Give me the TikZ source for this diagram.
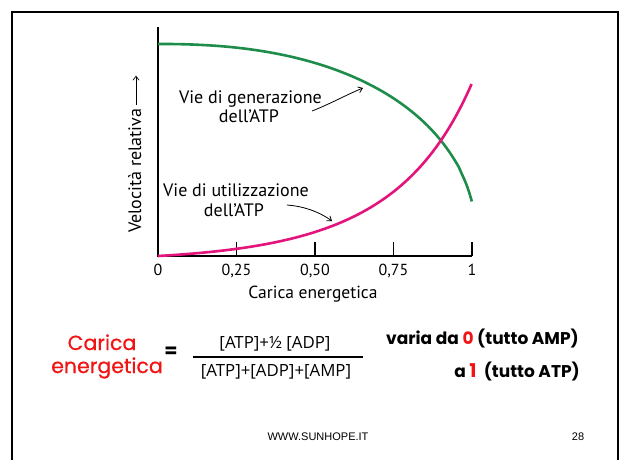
\documentclass[tikz,border=0pt]{standalone}
\usepackage{fontspec}
\setmainfont{PT Sans}
\newfontfamily\comic{Poppins}
\newfontfamily\comicheavy[FakeBold=0.6]{Poppins}
\newfontfamily\formfont{Open Sans}
\newfontfamily\arialf{Liberation Sans}
\usetikzlibrary{arrows.meta,calc}
\definecolor{gcurve}{RGB}{30,140,75}
\definecolor{mcurve}{RGB}{228,20,125}
\definecolor{redtxt}{RGB}{240,20,20}
\tikzset{
  frameline/.style={line width=2pt,black},
  axisline/.style={line width=1.3pt,black},
  gline/.style={line width=2.6pt,gcurve},
  mline/.style={line width=2.6pt,mcurve},
  thinarrow/.style={line width=0.8pt,-{Straight Barb[length=4pt,width=6pt]}},
  lbl/.style={inner sep=0pt,font=\fontsize{18}{20}\selectfont},
  ticklbl/.style={inner sep=0pt,anchor=base,font=\fontsize{16}{18}\selectfont},
  formula/.style={inner sep=0pt,anchor=base,font=\formfont\fontsize{16.8}{19}\selectfont},
  comicred/.style={inner sep=0pt,anchor=base,text=redtxt,font=\comicheavy\fontsize{20.5}{22}\selectfont},
  comicbold/.style={inner sep=0pt,anchor=base,font=\comic\bfseries\fontsize{17}{18}\selectfont},
  footer/.style={inner sep=0pt,anchor=base,font=\arialf\fontsize{11}{13}\selectfont}
}
\begin{document}
\begin{tikzpicture}[x=1pt,y=-1pt]
\useasboundingbox (0,0) rectangle (621,459);
\fill[white] (0,0) rectangle (621,459);
% frame
\draw[frameline] (12,460) -- (12,12) -- (618,12) -- (618,460);
% axes
\coordinate (Ytop) at (158,27);
\coordinate (O) at (158,256);
\coordinate (Xend) at (472,256);
\draw[axisline] (Ytop) -- (O) -- (Xend);
\foreach \t in {0.25,0.5,0.75,1} {
  \draw[axisline] ({158+314*\t},242) -- ({158+314*\t},256);
}
\node[ticklbl] (t0) at (158,275) {0};
\node[ticklbl] (t1) at (236.5,275) {0,25};
\node[ticklbl] (t2) at (315,275) {0,50};
\node[ticklbl] (t3) at (393.5,275) {0,75};
\node[ticklbl] (t4) at (472,275) {1};
\node[inner sep=0pt,anchor=base,font=\fontsize{17.5}{20}\selectfont] (xlab) at (313,298) {Carica energetica};
% y label
\node[lbl,rotate=90,anchor=base west] (ylab) at (141,233) {Velocità relativa};
\coordinate (yarrS) at ($(ylab.base east)+(-5,-4)$);
\coordinate (yarrE) at ($(yarrS)+(0,-29)$);
\draw[thinarrow,line width=0.7pt] (yarrS) -- (yarrE);
% curves
\draw[gline] (158,44) -- plot[domain=0.01:1,samples=120] ({158+314*\x},{256-212*pow(1-pow(0.9811*\x,2.3),0.4348)});
\draw[mline] plot[domain=0:1,samples=120] ({158+314*\x},{256-5.36*(exp(3.4*\x)-1)-17.7*pow(\x,10)});
% labels
\node[lbl,anchor=base] (gen1) at (250.5,103) {Vie di generazione};
\node[lbl,anchor=base] (gen2) at (249,122) {dell’ATP};
\coordinate (gtail) at (312,111);
\coordinate (ghead) at (363,88);
\draw[thinarrow] (gtail) .. controls (330,104) and (348,94) .. (ghead);
\node[lbl,anchor=base] (uti1) at (236,196) {Vie di utilizzazione};
\node[lbl,anchor=base] (uti2) at (234,216) {dell’ATP};
\coordinate (mtail) at (287,205);
\coordinate (mhead) at (332,221);
\draw[thinarrow] (mtail) .. controls (302,206) and (318,211) .. (mhead);
% formula
\node[comicred] (car1) at (102,350) {Carica};
\node[comicred] (car2) at (107,373) {energetica};
\node[inner sep=0pt,font=\comic\bfseries\fontsize{19}{20}\selectfont] (eq) at (171,352) {=};
\node[formula] (num) at (275,348) {[ATP]+½ [ADP]};
\coordinate (fl) at (193,357);
\coordinate (fr) at (363,357);
\draw[line width=1.6pt] (fl) -- (fr);
\node[formula] (den) at (276,376) {[ATP]+[ADP]+[AMP]};
\node[comicbold,anchor=base east] (r1) at (579,344) {varia da \textcolor{redtxt}{0} (tutto AMP)};
\node[comicbold,anchor=base east] (r2) at (580,377) {a \textcolor{redtxt}{\fontsize{19}{20}\selectfont 1}\ \ (tutto ATP)};
% footer
\node[footer] (web) at (318,440) {WWW.SUNHOPE.IT};
\node[footer] (pg) at (578,440) {28};
\end{tikzpicture}
\end{document}
